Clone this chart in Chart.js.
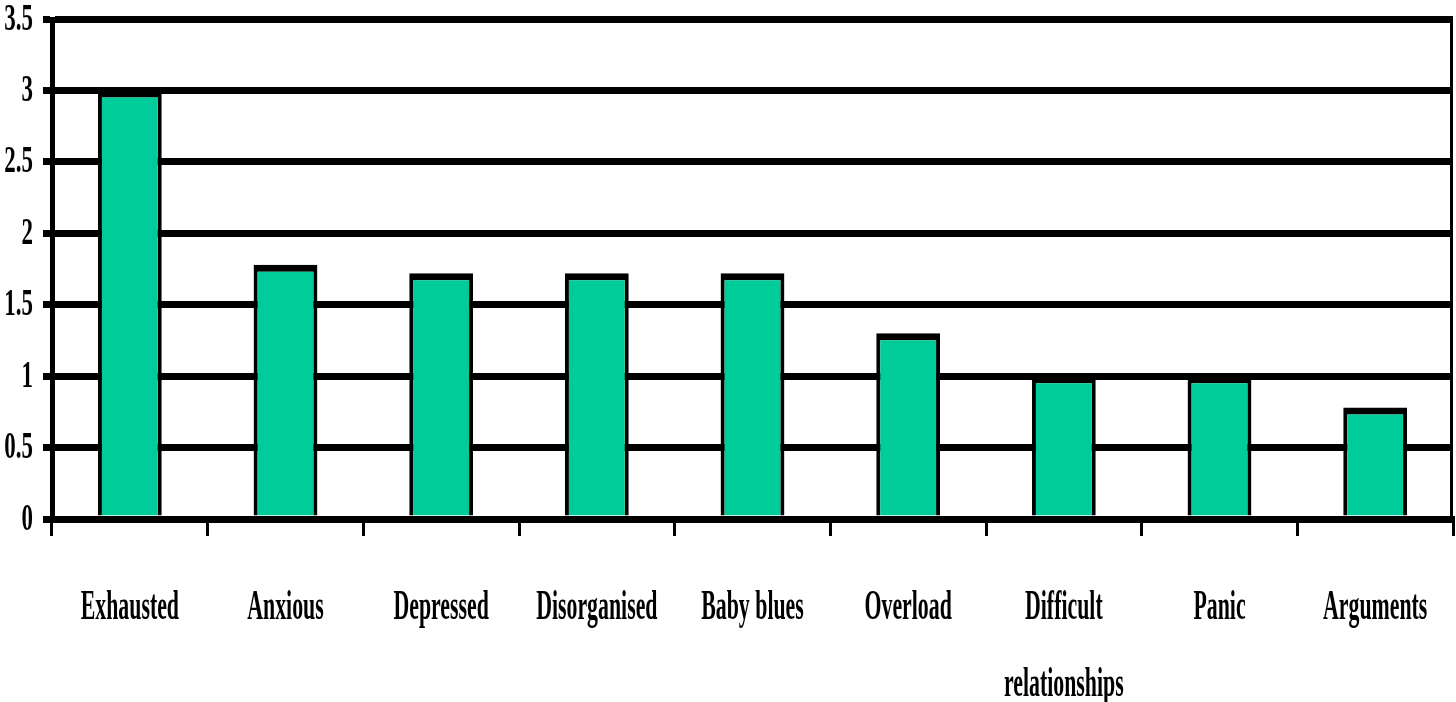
<!DOCTYPE html>
<html>
<head>
<meta charset="utf-8">
<script src="https://cdn.jsdelivr.net/npm/chart.js@4"></script>
<style>
  html, body { margin: 0; padding: 0; background: #fff; }
  canvas { display: block; }
</style>
</head>
<body>
<canvas id="grafico" width="1456" height="702"></canvas>
<script>
// ===== DADOS =====
const categorias = ['Exhausted', 'Anxious', 'Depressed', 'Disorganised', 'Baby blues', 'Overload', ['Difficult', 'relationships'], 'Panic', 'Arguments'];
const valores = [3, 1.78, 1.72, 1.72, 1.72, 1.3, 1, 1, 0.78];
const ticksY = [0, 0.5, 1, 1.5, 2, 2.5, 3, 3.5];

// ===== RÓTULOS DESENHADOS À MÃO (fonte serif condensada) =====
const rotulos = {
  id: 'rotulos',
  afterDraw(chart) {
    const ctx = chart.ctx;
    const sy = chart.scales.y, sx = chart.scales.x;
    const area = chart.chartArea;
    ctx.save();
    ctx.fillStyle = '#000';
    // moldura direita
    ctx.strokeStyle = '#000';
    ctx.lineWidth = 3;
    ctx.beginPath();
    ctx.moveTo(area.right - 1.5, area.top - 3);
    ctx.lineTo(area.right - 1.5, area.bottom);
    ctx.stroke();
    // eixo Y
    ctx.font = 'bold 37px "Liberation Serif"';
    ctx.textAlign = 'right';
    ctx.textBaseline = 'middle';
    ticksY.forEach(v => {
      ctx.save();
      ctx.translate(area.left - 19, sy.getPixelForValue(v) + 1);
      ctx.scale(0.62, 1);
      ctx.fillText(String(v), 0, 0);
      ctx.restore();
    });
    // eixo X
    ctx.font = 'bold 42px "Liberation Serif"';
    ctx.textAlign = 'center';
    ctx.textBaseline = 'alphabetic';
    categorias.forEach((c, i) => {
      const linhas = Array.isArray(c) ? c : [c];
      linhas.forEach((t, j) => {
        ctx.save();
        ctx.translate(sx.getPixelForValue(i), area.bottom + 100 + j * 77);
        ctx.scale(0.52, 1);
        ctx.fillText(t, 0, 0);
        ctx.restore();
      });
    });
    ctx.restore();
  }
};

const ctx = document.getElementById('grafico');
new Chart(ctx, {
  type: 'bar',
  data: {
    labels: categorias,
    datasets: [{
      data: valores,
      backgroundColor: '#00CC99',
      borderColor: '#000',
      borderWidth: { top: 7, left: 4, right: 4, bottom: 0 },
      borderSkipped: 'bottom',
      barPercentage: 0.41,
      categoryPercentage: 1
    }]
  },
  options: {
    responsive: false,
    animation: false,
    layout: { padding: { top: 19, right: 3, left: 0, bottom: 0 } },
    plugins: {
      legend: { display: false },
      tooltip: { enabled: false },
      title: { display: false }
    },
    scales: {
      x: {
        z: 1,
        ticks: { display: false },
        grid: { offset: true, drawOnChartArea: false, drawTicks: true, tickLength: 17, lineWidth: 3, color: '#000' },
        border: { display: true, width: 7, color: '#000' },
        afterFit: s => { s.height = 183; }
      },
      y: {
        min: 0,
        max: 3.5,
        ticks: { display: false, stepSize: 0.5 },
        grid: { color: '#000', lineWidth: 7, drawTicks: true, tickLength: 9 },
        border: { display: true, width: 5, color: '#000' },
        afterFit: s => { s.width = 52; }
      }
    }
  },
  plugins: [rotulos]
});
</script>
</body>
</html>
